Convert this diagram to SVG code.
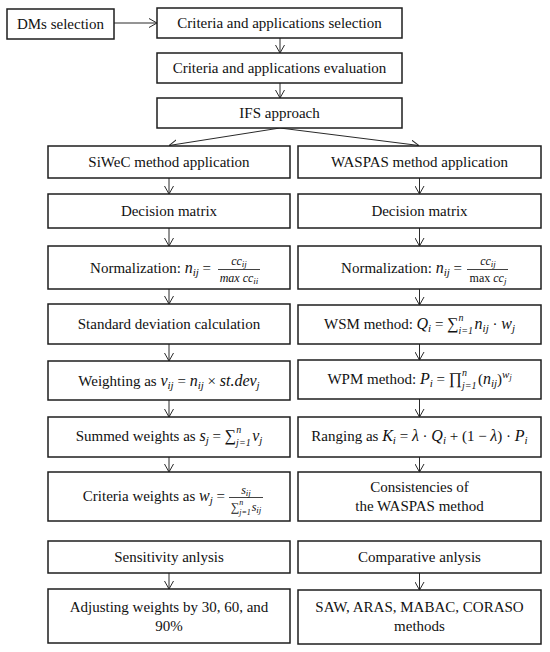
<svg xmlns="http://www.w3.org/2000/svg" width="550" height="652" viewBox="0 0 550 652">
<style>
.box{fill:#fff;stroke:#1e1e1e;stroke-width:1.5}
.t{font-family:"Liberation Serif",serif;font-size:15px;fill:#111;text-anchor:middle}
.e{text-anchor:end}
.i{font-style:italic;font-size:16px}
.sb{font-style:italic;font-size:11px}
.lim{font-style:italic;font-size:10px}
.f{font-family:"Liberation Serif",serif;font-size:12px;fill:#111;text-anchor:middle;font-style:italic}
.fs{font-size:9px}
.fl{font-size:8px}
.up{font-style:normal}
.big{font-size:16px}
.con line{stroke:#2a2a2a;stroke-width:1;fill:none}
.fr{stroke:#111;stroke-width:0.8}
</style>
<defs>
<marker id="ah" viewBox="0 0 8 10" refX="8" refY="5" markerWidth="8" markerHeight="10" markerUnits="userSpaceOnUse" orient="auto">
<path d="M0,0.5 L8,5 L0,9.5" fill="none" stroke="#2a2a2a" stroke-width="1"/>
</marker>
</defs>
<rect width="550" height="652" fill="#fff"/>

<g class="con">
<line x1="114" y1="23" x2="157" y2="23" marker-end="url(#ah)"/>
<line x1="280" y1="38" x2="280" y2="53" marker-end="url(#ah)"/>
<line x1="280" y1="83" x2="280" y2="98" marker-end="url(#ah)"/>
<line x1="280" y1="128" x2="169" y2="145.5" marker-end="url(#ah)"/>
<line x1="280" y1="128" x2="419" y2="145.5" marker-end="url(#ah)"/>
<line x1="169" y1="178" x2="169" y2="194" marker-end="url(#ah)"/>
<line x1="169" y1="228" x2="169" y2="246" marker-end="url(#ah)"/>
<line x1="169" y1="289" x2="169" y2="304" marker-end="url(#ah)"/>
<line x1="169" y1="344" x2="169" y2="361" marker-end="url(#ah)"/>
<line x1="169" y1="400" x2="169" y2="417" marker-end="url(#ah)"/>
<line x1="169" y1="457" x2="169" y2="472" marker-end="url(#ah)"/>
<line x1="169" y1="573" x2="169" y2="589" marker-end="url(#ah)"/>
<line x1="419.5" y1="178" x2="419.5" y2="194" marker-end="url(#ah)"/>
<line x1="419.5" y1="228" x2="419.5" y2="246" marker-end="url(#ah)"/>
<line x1="419.5" y1="289" x2="419.5" y2="305" marker-end="url(#ah)"/>
<line x1="419.5" y1="344" x2="419.5" y2="360" marker-end="url(#ah)"/>
<line x1="419.5" y1="399" x2="419.5" y2="417" marker-end="url(#ah)"/>
<line x1="419.5" y1="457" x2="419.5" y2="472" marker-end="url(#ah)"/>
<line x1="419.5" y1="573" x2="419.5" y2="590" marker-end="url(#ah)"/>
</g>

<g id="dms"><rect class="box" x="7" y="9" width="107" height="30"/><text class="t" x="60.5" y="29">DMs selection</text></g>
<g id="crit-sel"><rect class="box" x="157" y="8" width="245" height="30"/><text class="t" x="279.5" y="28">Criteria and applications selection</text></g>
<g id="crit-eval"><rect class="box" x="157" y="53" width="245" height="30"/><text class="t" x="279.5" y="73">Criteria and applications evaluation</text></g>
<g id="ifs"><rect class="box" x="157" y="98" width="245" height="30"/><text class="t" x="279.5" y="118">IFS approach</text></g>

<g id="siwec"><rect class="box" x="48" y="146" width="242" height="32"/><text class="t" x="169" y="167">SiWeC method application</text></g>
<g id="dm-left"><rect class="box" x="48" y="194" width="242" height="34"/><text class="t" x="169" y="216">Decision matrix</text></g>
<g id="norm-left"><rect class="box" x="48" y="246" width="242" height="43"/>
<text class="t e" x="211" y="273">Normalization:  <tspan class="i">n</tspan><tspan class="sb" dy="3">ij</tspan><tspan dy="-3"> =</tspan></text>
<text class="f" x="239" y="265">cc<tspan class="fs" dy="2">ij</tspan></text>
<line class="fr" x1="218" y1="269.5" x2="260" y2="269.5"/>
<text class="f" x="239" y="282">max cc<tspan class="fs" dy="2">ii</tspan></text>
</g>
<g id="std-left"><rect class="box" x="48" y="304" width="242" height="40"/><text class="t" x="169" y="329">Standard deviation calculation</text></g>
<g id="weight-left"><rect class="box" x="48" y="361" width="242" height="39"/>
<text class="t" x="169" y="386">Weighting as <tspan class="i">v</tspan><tspan class="sb" dy="3">ij</tspan><tspan dy="-3"> = </tspan><tspan class="i">n</tspan><tspan class="sb" dy="3">ij</tspan><tspan dy="-3"> × </tspan><tspan class="i">st.dev</tspan><tspan class="sb" dy="3">j</tspan></text>
</g>
<g id="sum-left"><rect class="box" x="48" y="417" width="242" height="40"/>
<text class="t" x="169" y="441">Summed weights as <tspan class="i">s</tspan><tspan class="sb" dy="3">j</tspan><tspan dy="-3"> = </tspan><tspan class="big">∑</tspan><tspan class="lim" dy="5">j=1</tspan><tspan class="lim" dx="-14.5" dy="-13">n</tspan><tspan class="i" dx="11" dy="8">v</tspan><tspan class="sb" dy="3">j</tspan></text>
</g>
<g id="cw-left"><rect class="box" x="48" y="472" width="242" height="49"/>
<text class="t e" x="225" y="501">Criteria weights as <tspan class="i">w</tspan><tspan class="sb" dy="3">j</tspan><tspan dy="-3"> =</tspan></text>
<text class="f" x="246" y="494">s<tspan class="fs" dy="2">ij</tspan></text>
<line class="fr" x1="229" y1="497.5" x2="263" y2="497.5"/>
<text class="f" x="246" y="511"><tspan class="up">∑</tspan><tspan class="fl" dy="4">j=1</tspan><tspan class="fl" dx="-11.6" dy="-10">n</tspan><tspan dx="8.5" dy="6">s</tspan><tspan class="fs" dy="2">ij</tspan></text>
</g>
<g id="sens"><rect class="box" x="48" y="541" width="242" height="32"/><text class="t" x="169" y="562">Sensitivity anlysis</text></g>
<g id="adjust"><rect class="box" x="48" y="589" width="242" height="54"/><text class="t" x="169" y="612">Adjusting weights by 30, 60, and</text><text class="t" x="169" y="631">90%</text></g>

<g id="waspas"><rect class="box" x="298" y="146" width="243" height="32"/><text class="t" x="419.5" y="167">WASPAS method application</text></g>
<g id="dm-right"><rect class="box" x="298" y="194" width="243" height="34"/><text class="t" x="419.5" y="216">Decision matrix</text></g>
<g id="norm-right"><rect class="box" x="298" y="246" width="243" height="43"/>
<text class="t e" x="462" y="273">Normalization:  <tspan class="i">n</tspan><tspan class="sb" dy="3">ij</tspan><tspan dy="-3"> =</tspan></text>
<text class="f" x="488" y="265">cc<tspan class="fs" dy="2">ij</tspan></text>
<line class="fr" x1="467" y1="269.5" x2="508" y2="269.5"/>
<text class="f" x="488" y="282"><tspan class="up">max</tspan> cc<tspan class="fs" dy="2">j</tspan></text>
</g>
<g id="wsm"><rect class="box" x="298" y="305" width="243" height="39"/>
<text class="t" x="419.5" y="329">WSM method: <tspan class="i">Q</tspan><tspan class="sb" dy="3">i</tspan><tspan dy="-3"> = </tspan><tspan class="big">∑</tspan><tspan class="lim" dy="5">i=1</tspan><tspan class="lim" dx="-14.5" dy="-13">n</tspan><tspan class="i" dx="11" dy="8">n</tspan><tspan class="sb" dy="3">ij</tspan><tspan dy="-3"> · </tspan><tspan class="i">w</tspan><tspan class="sb" dy="3">j</tspan></text>
</g>
<g id="wpm"><rect class="box" x="298" y="360" width="243" height="39"/>
<text class="t" x="419.5" y="384">WPM method: <tspan class="i">P</tspan><tspan class="sb" dy="3">i</tspan><tspan dy="-3"> = </tspan><tspan class="big">∏</tspan><tspan class="lim" dy="5">j=1</tspan><tspan class="lim" dx="-14.5" dy="-13">n</tspan><tspan dx="11" dy="8">(</tspan><tspan class="i">n</tspan><tspan class="sb" dy="3">ij</tspan><tspan dy="-3">)</tspan><tspan class="sb" dy="-6">w</tspan><tspan class="sb" style="font-size:8px" dy="2">j</tspan></text>
</g>
<g id="rank"><rect class="box" x="298" y="417" width="243" height="40"/>
<text class="t" x="419.5" y="441">Ranging as <tspan class="i">K</tspan><tspan class="sb" dy="3">i</tspan><tspan dy="-3"> = </tspan><tspan class="i">λ</tspan> · <tspan class="i">Q</tspan><tspan class="sb" dy="3">i</tspan><tspan dy="-3"> + (1 − </tspan><tspan class="i">λ</tspan>) · <tspan class="i">P</tspan><tspan class="sb" dy="3">i</tspan></text>
</g>
<g id="consist"><rect class="box" x="298" y="472" width="243" height="49"/><text class="t" x="419.5" y="492">Consistencies of</text><text class="t" x="419.5" y="511">the WASPAS method</text></g>
<g id="comp"><rect class="box" x="298" y="541" width="243" height="32"/><text class="t" x="419.5" y="562">Comparative anlysis</text></g>
<g id="saw"><rect class="box" x="298" y="590" width="243" height="54"/><text class="t" x="419.5" y="612">SAW, ARAS, MABAC, CORASO</text><text class="t" x="419.5" y="631">methods</text></g>
</svg>
